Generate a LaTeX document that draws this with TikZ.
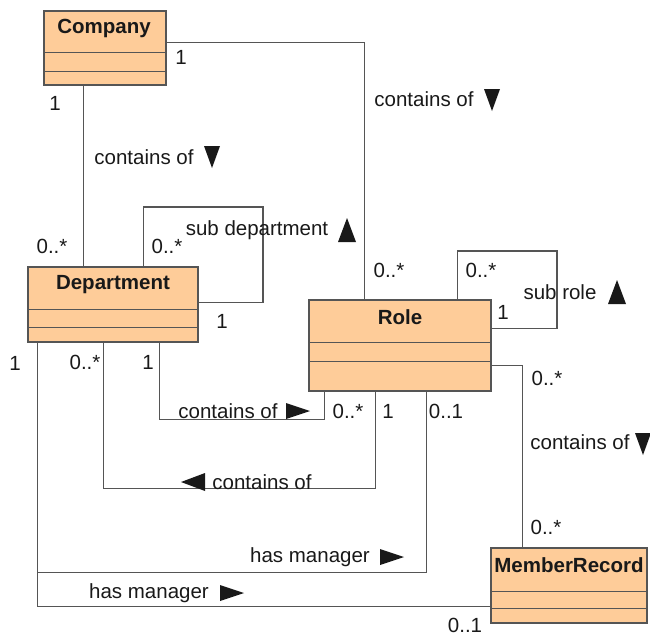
\documentclass[tikz,border=0pt]{standalone}
\usepackage{fontspec}
\setmainfont{Liberation Sans}
\usetikzlibrary{calc}
\definecolor{classfill}{RGB}{254,204,153}
\definecolor{edge}{RGB}{85,85,85}
\definecolor{ink}{RGB}{25,25,25}
\begin{document}
\begin{tikzpicture}[x=1pt,y=-1pt,
  classbox/.style={draw=edge, line width=1.5pt, fill=classfill, rectangle, inner sep=0pt},
  classtitle/.style={font=\fontsize{20.5}{23}\selectfont\bfseries, inner sep=0pt, text=ink},
  lbl/.style={font=\fontsize{20.5}{23}\selectfont, inner sep=0pt, text=ink},
  assoc/.style={draw=edge, line width=1.4pt},
  divider/.style={draw=edge, line width=1.4pt},
  triD/.pic={\fill[ink] (-8,-11) -- (8,-11) -- (0,11) -- cycle;},
  triU/.pic={\fill[ink] (-9,12) -- (9,12) -- (0,-12) -- cycle;},
  triR/.pic={\fill[ink] (-12,-8) -- (-12,8) -- (12,0) -- cycle;},
  triL/.pic={\fill[ink] (12,-9) -- (12,9) -- (-12,0) -- cycle;}]
\useasboundingbox (0,0) rectangle (650,635);

% ---- classes ----
\node[classbox, minimum width=122pt, minimum height=74pt] (company) at (105,48) {};
\node[classbox, minimum width=170pt, minimum height=75pt] (dept) at (113,304.5) {};
\node[classbox, minimum width=182pt, minimum height=91pt] (role) at (400,345.5) {};
\node[classbox, minimum width=156pt, minimum height=75pt] (mr) at (569,585.5) {};

\foreach \n/\a/\b in {company/42/61, dept/43/61, role/43/62, mr/44/61}{
  \draw[divider] ($(\n.north west)+(0,\a)$) -- ($(\n.north east)+(0,\a)$);
  \draw[divider] ($(\n.north west)+(0,\b)$) -- ($(\n.north east)+(0,\b)$);
}

\node[classtitle] (ctitle) at (104,28) {Company};
\node[classtitle] (dtitle) at (113,285) {Department};
\node[classtitle] (rtitle) at (400,317) {Role};
\node[classtitle] (mtitle) at (569,565) {MemberRecord};

% ---- associations ----
% Company -> Role
\draw[assoc] ($(company.north east)+(0,32)$) -| ($(role.north west)+(56,0)$);
% Company -> Department
\draw[assoc] ($(company.south west)+(40,0)$) -- ($(dept.north west)+(56,0)$);
% Department sub department loop
\coordinate (dloop) at (263,207);
\draw[assoc] ($(dept.north west)+(116,0)$) |- (dloop) |- ($(dept.north east)+(0,36)$);
% Role sub role loop
\coordinate (rloop) at (557,251);
\draw[assoc] ($(role.north west)+(149,0)$) |- (rloop) |- ($(role.north east)+(0,29)$);
% Role -> MemberRecord
\draw[assoc] ($(role.north east)+(0,66)$) -| ($(mr.north west)+(32,0)$);
% Department -> Role (contains of, to the right)
\draw[assoc] ($(dept.south west)+(132,0)$) |- ($(role.south west)+(16,28)$) -- ($(role.south west)+(16,0)$);
% Role -> Department (contains of, to the left)
\draw[assoc] ($(dept.south west)+(76,0)$) |- ($(role.south west)+(67,97)$) -- ($(role.south west)+(67,0)$);
% Department -> Role (has manager)
\draw[assoc] ($(dept.south west)+(10,0)$) |- ($(role.south west)+(118,181)$) -- ($(role.south west)+(118,0)$);
% Department -> MemberRecord (has manager)
\draw[assoc] ($(dept.south west)+(10,0)$) |- ($(mr.north west)+(0,59)$);

% ---- labels ----
\node[lbl] (m1) at (181,57) {1};
\node[lbl] (m2) at (55,103) {1};
\node[lbl] (a1) at (144,157) {contains of};
\pic at (212,157) {triD};
\node[lbl] (a2) at (424,99) {contains of};
\pic at (492,100) {triD};
\node[lbl] (m3) at (52,246) {0..*};
\node[lbl] (m4) at (167,246) {0..*};
\node[lbl] (a3) at (257,230) {sub department};
\pic at (347,230) {triU};
\node[lbl] (m5) at (222,321) {1};
\node[lbl] (m6) at (389,270) {0..*};
\node[lbl] (m7) at (481,270) {0..*};
\node[lbl] (a4) at (560,292) {sub role};
\pic at (617,292) {triU};
\node[lbl] (m8) at (503,312) {1};
\node[lbl] (m9) at (547,378) {0..*};
\node[lbl] (a5) at (580,442) {contains of};
\pic at (643,444) {triD};
\node[lbl] (m10) at (546,527) {0..*};
\node[lbl] (m11) at (15,363) {1};
\node[lbl] (m12) at (85,362) {0..*};
\node[lbl] (m13) at (148,362) {1};
\node[lbl] (a6) at (228,411) {contains of};
\pic at (298,411) {triR};
\node[lbl] (m14) at (348,411) {0..*};
\node[lbl] (m15) at (388,411) {1};
\node[lbl] (m16) at (446,411) {0..1};
\pic at (193,482) {triL};
\node[lbl] (a7) at (262,482) {contains of};
\node[lbl] (a8) at (310,557) {has manager};
\pic at (392,557) {triR};
\node[lbl] (a9) at (149,593) {has manager};
\pic at (232,593) {triR};
\node[lbl] (m17) at (465,625) {0..1};
\end{tikzpicture}
\end{document}
